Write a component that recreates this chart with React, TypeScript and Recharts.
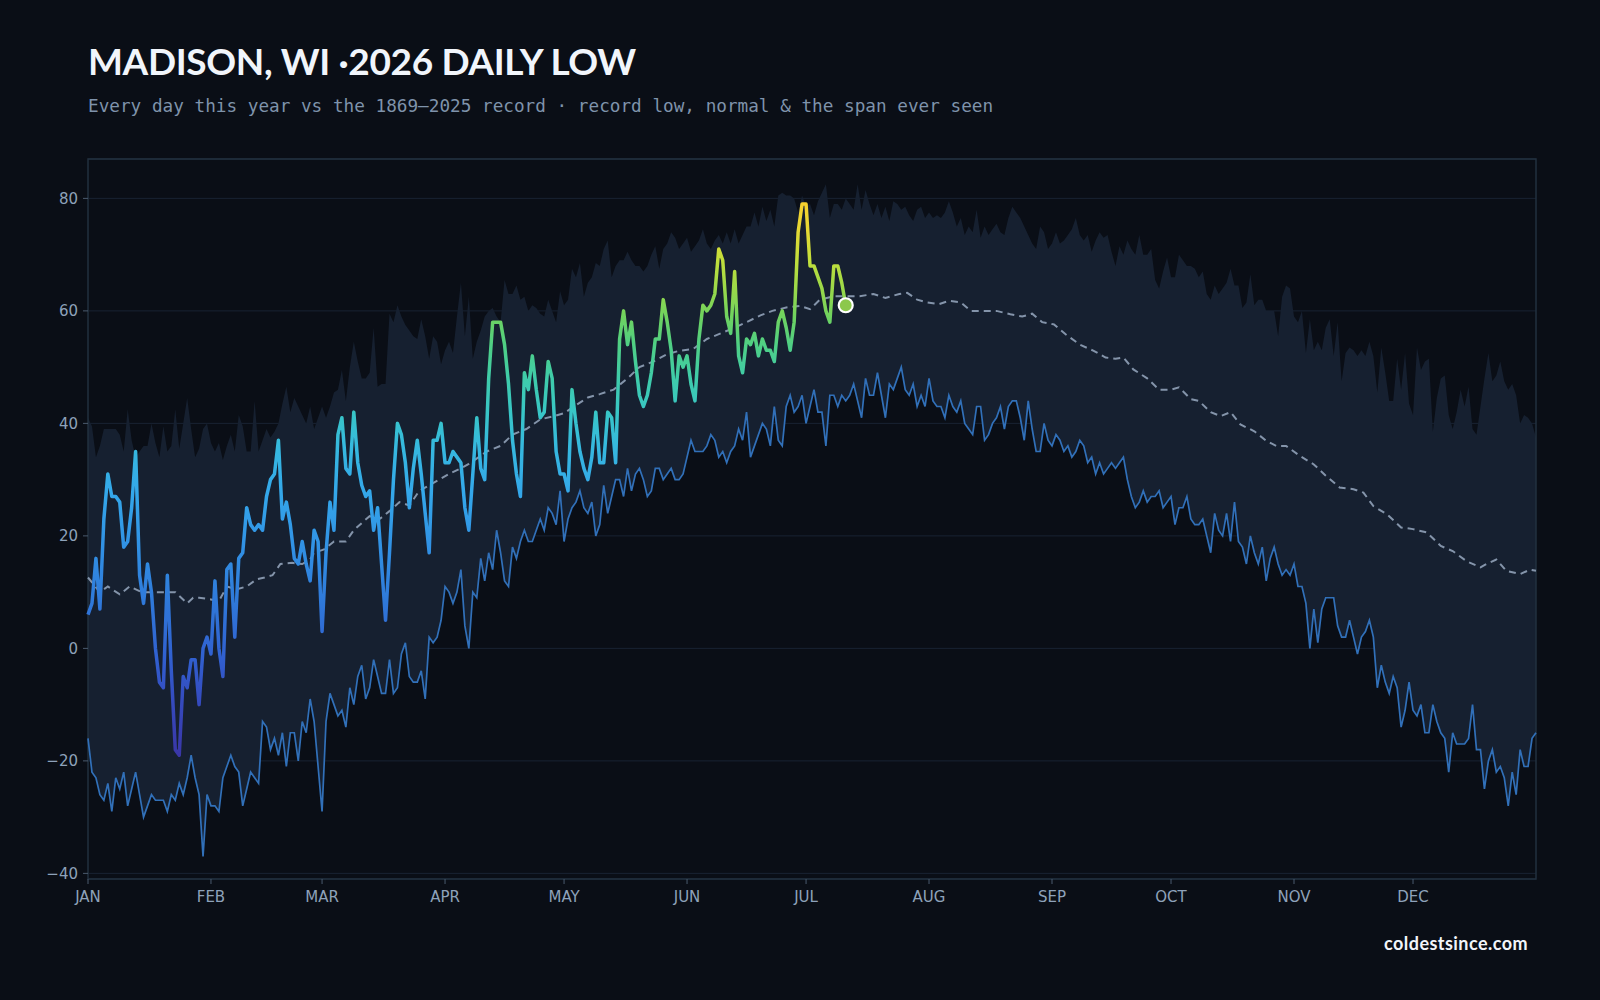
import React from 'react';
import {
  ComposedChart, Area, Line, XAxis, YAxis, CartesianGrid, ReferenceArea, ReferenceDot,
} from 'recharts';

const MONTHS = ['JAN', 'FEB', 'MAR', 'APR', 'MAY', 'JUN', 'JUL', 'AUG', 'SEP', 'OCT', 'NOV', 'DEC'];
const MONTH_START = [0, 31, 59, 90, 120, 151, 181, 212, 243, 273, 304, 334];
const Y_TICKS = [-40, -20, 0, 20, 40, 60, 80];

// record high daily low (top of band), day 0..365
const RECORD_HIGH = [
  41, 39.5, 34, 36, 39, 39, 39, 39, 38, 35,
  42.5, 37, 34, 35, 36, 36, 40, 36.5, 34, 39.5,
  35, 36, 42.5, 35.5, 40, 44.5, 39, 34, 35.5, 39,
  40, 36.5, 35, 36.5, 33.5, 36, 38, 35, 41.5, 39.5,
  35, 35, 44, 35, 37, 39, 37.5, 38.5, 40, 43.5,
  46.5, 42, 44.5, 43, 41.5, 40, 43, 39, 41, 43,
  41, 43, 45.5, 46, 49.5, 44, 50, 54.5, 51, 48,
  48, 49, 57, 46.5, 47, 47, 59.5, 58, 61, 59,
  57.5, 56.5, 55.5, 55, 58.5, 55.5, 51.5, 55.5, 54.5, 50.5,
  53, 54.5, 52.5, 59, 65, 55.5, 62.5, 51.5, 54.5, 56.5,
  59, 60, 60.5, 59, 58, 65.5, 63, 63, 64.5, 62,
  62.5, 60, 61, 60.5, 59.5, 59, 62, 60, 58, 63.5,
  61, 62, 67.5, 66, 68.5, 62.5, 65, 66, 68.5, 68,
  71, 72.5, 66, 68, 69, 69, 70.5, 69, 68, 68,
  67, 68, 70, 71.5, 67.5, 71, 72, 74, 73, 71,
  72, 73, 70.5, 71.5, 72.5, 74.5, 72, 71, 72.5, 73.5,
  72, 74, 72, 74.5, 72, 73.5, 75, 75, 77.5, 75,
  78.5, 76, 78, 75, 80.5, 81, 80.5, 80.5, 80, 77.5,
  80.5, 78.5, 79, 77, 79.5, 81, 82.5, 76.5, 79, 79,
  78, 80, 79, 78, 82.5, 78, 81.5, 79, 77, 79,
  76.5, 78.5, 76, 79.5, 79, 78, 78.5, 77, 76, 78,
  78.5, 76.5, 77.5, 76.5, 77, 76.5, 77.5, 79.5, 77.5, 75,
  76.5, 73.5, 75, 74, 78, 73, 75, 73.5, 74.5, 75.5,
  74, 73.5, 76.5, 78.5, 77.5, 76.5, 75, 73.5, 72, 71,
  75, 74, 71, 72, 74, 72, 72.5, 73.5, 74.5, 76.5,
  73.5, 72.5, 73.5, 70.5, 72.5, 74, 73, 73.5, 70.5, 68,
  71.5, 70, 72.5, 71, 70, 73.5, 70, 70, 71, 65.5,
  64, 67, 69.5, 66, 66, 70, 69, 68, 68, 67.5,
  66, 67, 63, 62, 64.5, 63, 64, 65, 67.5, 64.5,
  64.5, 60.5, 61.5, 66.5, 61, 62, 62, 60, 60, 60,
  55.5, 62.5, 64.5, 64, 59, 58, 60, 52.5, 58.5, 53,
  54.5, 53, 57, 58.5, 52, 58, 47.5, 52.5, 53.5, 53,
  52, 53, 52, 54.5, 52, 45.5, 53.5, 49, 44, 44,
  51.5, 46, 52.5, 43.5, 41.5, 53.5, 49.5, 51, 51.5, 38.5,
  44.5, 48, 48.5, 41.5, 39, 42, 46, 43, 46.5, 39,
  38, 43, 48, 52.5, 47.5, 48.5, 51, 47.5, 46, 47,
  45, 40, 41.5, 41, 40, 37.5,
];

// record low daily low (bottom of band), day 0..365
const RECORD_LOW = [
  -16, -22, -23, -26, -27, -24, -29, -23, -25, -22,
  -28, -25, -22, -26, -30, -28, -26, -27, -27, -27,
  -29, -26, -27, -24, -26, -23, -19, -23, -26, -37,
  -26, -28, -28, -29, -23, -21, -19, -21, -22, -28,
  -25, -22, -23, -24, -13, -14, -18, -16, -19, -15,
  -21, -15, -15, -20, -13, -15, -9, -13, -21, -29,
  -13, -8, -10, -12, -11, -14, -7, -10, -5, -3,
  -9, -7, -2, -5, -8, -8, -2, -8, -7, -1,
  1, -5, -6, -6, -4, -9, 2, 1, 2, 5,
  11, 10, 8, 10, 14, 4, 0, 10, 9, 16,
  12, 17, 14, 21, 17, 12, 11, 18, 16, 19,
  21, 19, 19, 21, 23, 21, 25, 24, 22, 28,
  19, 23, 25, 26, 28, 25, 24, 26, 20, 22,
  29, 24, 27, 30, 30, 27, 32, 28, 31, 32,
  30, 27, 28, 32, 32, 30, 31, 32, 30, 30,
  31, 34, 37, 35, 35, 35, 36, 38, 37, 34,
  35, 33, 35, 36, 39, 37, 42, 34, 36, 38,
  40, 39, 36, 43, 37, 36, 43, 45, 42, 43,
  45, 40, 43, 46, 42, 42, 36, 45, 45, 43,
  45, 44, 45, 47, 44, 41, 48, 45, 45, 49,
  45, 41, 47, 46, 48, 50, 46, 45, 47, 43,
  45, 43, 48, 44, 43, 43, 41, 45, 43, 42,
  44, 40, 39, 38, 43, 43, 37, 38, 40, 41,
  43, 39, 43, 44, 44, 41, 37, 44, 39, 35,
  35, 40, 37, 36, 38, 37, 35, 36, 34, 35,
  37, 36, 33, 34, 31, 33, 31, 32, 33, 32,
  33, 34, 30, 27, 25, 26, 28, 26, 27, 27,
  28, 25, 26, 27, 22, 25, 25, 27, 23, 22,
  22, 23, 20, 17, 24, 21, 20, 24, 19, 26,
  19, 18, 15, 20, 17, 15, 18, 12, 16, 18,
  15, 13, 14, 13, 15, 11, 11, 8, 0, 7,
  1, 7, 9, 9, 9, 4, 2, 2, 5, 2,
  -1, 2, 3, 5, 2, -7, -3, -6, -8, -5,
  -7, -14, -11, -6, -11, -12, -10, -15, -15, -10,
  -13, -15, -16, -22, -15, -17, -17, -17, -16, -10,
  -18, -18, -25, -20, -18, -22, -21, -23, -28, -22,
  -26, -18, -21, -21, -16, -15,
];

// normal daily low, read at these days
const NORMAL_DAY = [
  0, 3, 5, 8, 10.5, 13.5, 17, 20, 22, 25, 26.5, 28, 31, 33, 35, 37.5, 40, 42.5, 44.5, 46.5,
  48.5, 51.5, 54, 56, 57, 59.5, 62, 65, 67, 69.5, 71, 73.5, 76, 78.5, 81, 83.5, 86, 88.5, 91, 94,
  96, 98.5, 100.5, 104, 107, 110.5, 114, 117.5, 120, 122.5, 126, 129, 132.5, 136, 139, 142.5, 146, 149, 152.5, 156,
  159.5, 163, 166, 169.5, 172.5, 176, 179.5, 182, 184.5, 188, 191, 194.5, 198, 201, 204.5, 206.5, 209, 211.5, 214.5, 217,
  220, 222.5, 226, 229, 232.5, 235.5, 238, 240.5, 243.5, 246.5, 250, 253.5, 256.5, 259, 261, 263.5, 267, 270, 273, 275,
  278, 280, 283, 285.5, 288, 290.5, 294, 297, 299.5, 302, 305.5, 309, 312, 315.5, 319, 321.5, 324, 327.5, 331, 334,
  337.5, 341, 344, 347.5, 351, 352.5, 355, 357.5, 361, 363.5, 365,
];
const NORMAL_VAL = [
  12.6, 10, 11, 9.6, 11, 10, 10, 10, 10, 8, 9, 9, 8.7, 8.4, 11, 10.5, 11, 12.3, 12.6, 13,
  15, 15.2, 15, 15.8, 17, 17.6, 19, 19, 21, 22.6, 23.5, 23, 24.4, 26, 25.4, 28, 29, 30, 31, 32,
  32.8, 34, 35, 36, 38, 39, 40.7, 41.3, 41.8, 43, 44.6, 45.2, 46, 48, 50, 51, 52.3, 52.9, 53.2, 55,
  56, 57, 58, 59.2, 60, 60.6, 60.9, 60.3, 62, 62.6, 62.6, 62.6, 63, 62.3, 63, 63.2, 62, 61.5, 61.2, 61.8,
  61.5, 60, 60, 60, 59.4, 59, 59.5, 58, 57.6, 55.8, 54, 52.9, 51.7, 51.5, 51.7, 49.6, 48, 46, 46, 46.4,
  44.3, 44, 42, 41.3, 42, 39.8, 38.6, 36.9, 36, 36, 34.2, 32.7, 30.7, 28.6, 28.3, 27.7, 25.3, 23.8, 21.5, 21.2,
  20.6, 18.2, 17.3, 15.5, 14.4, 15, 15.8, 13.8, 13.2, 14, 13.8,
];

// 2026 daily low, day 0..191
const LOW_2026 = [
  6, 8, 16, 7, 23, 31, 27, 27, 26, 18,
  19, 25, 35, 13, 8, 15, 10, 0, -6, -7,
  13, -4, -18, -19, -5, -7, -2, -2, -10, 0,
  2, -1, 12, 0, -5, 14, 15, 2, 16, 17,
  25, 22, 21, 22, 21, 27, 30, 31, 37, 23,
  26, 22, 16, 15, 19, 15, 12, 21, 19, 3,
  17, 26, 21, 38, 41, 32, 31, 42, 33, 29,
  27, 28, 21, 25, 15, 5, 17, 30, 40, 38,
  33, 25, 32, 37, 31, 24, 17, 37, 37, 40,
  33, 33, 35, 34, 33, 25, 21, 31, 41, 32,
  30, 48, 58, 58, 58, 54, 47, 37, 31, 27,
  49, 46, 52, 46, 41, 42, 51, 48, 35, 31,
  31, 28, 46, 40, 35, 32, 30, 34, 42, 33,
  33, 42, 41, 33, 55, 60, 54, 58, 51, 45,
  43, 45, 49, 55, 55, 62, 58, 53, 44, 52,
  50, 52, 47, 44, 55, 61, 60, 61, 63, 71,
  69, 59, 56, 67, 52, 49, 55, 54, 56, 52,
  55, 53, 53, 51, 58, 60, 57, 53, 58, 74,
  79, 79, 68, 68, 66, 64, 60, 58, 68, 68,
  65, 61,
];

// colour ramp by temperature (style)
const RAMP: [number, string][] = [
  [79, '#f7d12e'], [74, '#e3d935'], [69, '#c2df3b'], [64, '#9bd949'], [59, '#6fd35f'],
  [54, '#4fcf84'], [48, '#3fccaa'], [42, '#38c6c6'], [36, '#36b9de'], [28, '#34a8ea'],
  [18, '#3191e4'], [8, '#2f78d9'], [-2, '#315fcf'], [-10, '#3549bd'], [-19, '#3a36a6'],
];

const bandRows = RECORD_HIGH.map((h, d) => ({ d, band: [RECORD_LOW[d], h], low: RECORD_LOW[d] }));
const normalRows = NORMAL_DAY.map((d, i) => ({ d, n: NORMAL_VAL[i] }));
const curRows = LOW_2026.map((v, d) => ({ d, t: v }));
const vMax = Math.max(...LOW_2026);
const vMin = Math.min(...LOW_2026);
const lastIdx = LOW_2026.length - 1;

const TICK_FONT = { fill: '#8ea2ba', fontSize: 15, fontFamily: 'DejaVu Sans' };
const fmtY = (v: number) => (v < 0 ? `\u2212${Math.abs(v)}` : `${v}`);
const fmtX = (v: number) => MONTHS[MONTH_START.indexOf(v)] ?? '';

export default function App() {
  return (
    <div style={{ position: 'absolute', left: 0, top: 0, width: 1600, height: 1000, background: '#0a0e16', overflow: 'hidden' }}>
      <ComposedChart
        width={1600}
        height={1000}
        data={bandRows}
        margin={{ top: 159, right: 64, bottom: 91, left: 28 }}
      >
        <defs>
          <linearGradient id="g26" x1="0" y1="0" x2="0" y2="1">
            {RAMP.map(([v, c]) => {
              const off = Math.min(1, Math.max(0, (vMax - v) / (vMax - vMin)));
              return <stop key={v} offset={off} stopColor={c} />;
            })}
          </linearGradient>
        </defs>
        <CartesianGrid vertical={false} stroke="#182333" strokeWidth={1} />
        <XAxis
          dataKey="d"
          type="number"
          domain={[0, 365]}
          ticks={MONTH_START}
          tickFormatter={fmtX}
          tick={TICK_FONT}
          tickLine={{ stroke: '#4a5a6e' }}
          tickSize={5}
          tickMargin={7}
          axisLine={false}
          height={30}
          interval={0}
        />
        <YAxis
          type="number"
          domain={[-41, 87]}
          ticks={Y_TICKS}
          tickFormatter={fmtY}
          tick={TICK_FONT}
          tickLine={{ stroke: '#4a5a6e' }}
          tickSize={5}
          tickMargin={5}
          axisLine={false}
          width={60}
          interval={0}
        />
        <Area
          dataKey="band"
          fill="#162030"
          fillOpacity={1}
          stroke="none"
          isAnimationActive={false}
          activeDot={false}
        />
        <Line
          dataKey="low"
          stroke="#3170b9"
          strokeWidth={1.7}
          dot={false}
          isAnimationActive={false}
          activeDot={false}
        />
        <Line
          data={normalRows}
          dataKey="n"
          stroke="#8494aa"
          strokeWidth={2}
          strokeDasharray="7 5"
          dot={false}
          isAnimationActive={false}
          activeDot={false}
        />
        <Line
          data={curRows}
          dataKey="t"
          stroke="url(#g26)"
          strokeWidth={3.5}
          strokeLinejoin="round"
          dot={false}
          isAnimationActive={false}
          activeDot={false}
        />
        <ReferenceDot
          x={curRows[lastIdx].d}
          y={curRows[lastIdx].t}
          r={7}
          fill="#8cc84b"
          stroke="#ffffff"
          strokeWidth={2.2}
        />
        <ReferenceArea x1={0} x2={365} y1={-41} y2={87} fill="none" stroke="#22303f" strokeWidth={1.5} />
      </ComposedChart>
      <svg width={1600} height={1000} style={{ position: 'absolute', left: 0, top: 0, pointerEvents: 'none' }}>
        <text x={88} y={75} fill="#f1f5fb" fontFamily="Lato" fontWeight={700} fontSize={37} letterSpacing={-0.35}>
          MADISON, WI ·2026 DAILY LOW
        </text>
        <text x={88} y={111.5} fill="#7f93ab" fontFamily="DejaVu Sans Mono" fontSize={17.7}>
          Every day this year vs the 1869–2025 record · record low, normal &amp; the span ever seen
        </text>
        <text x={1528} y={950} textAnchor="end" fill="#f2f5fa" fontFamily="Lato" fontWeight={700} fontSize={18} letterSpacing={0.45}>
          coldestsince.com
        </text>
      </svg>
    </div>
  );
}
